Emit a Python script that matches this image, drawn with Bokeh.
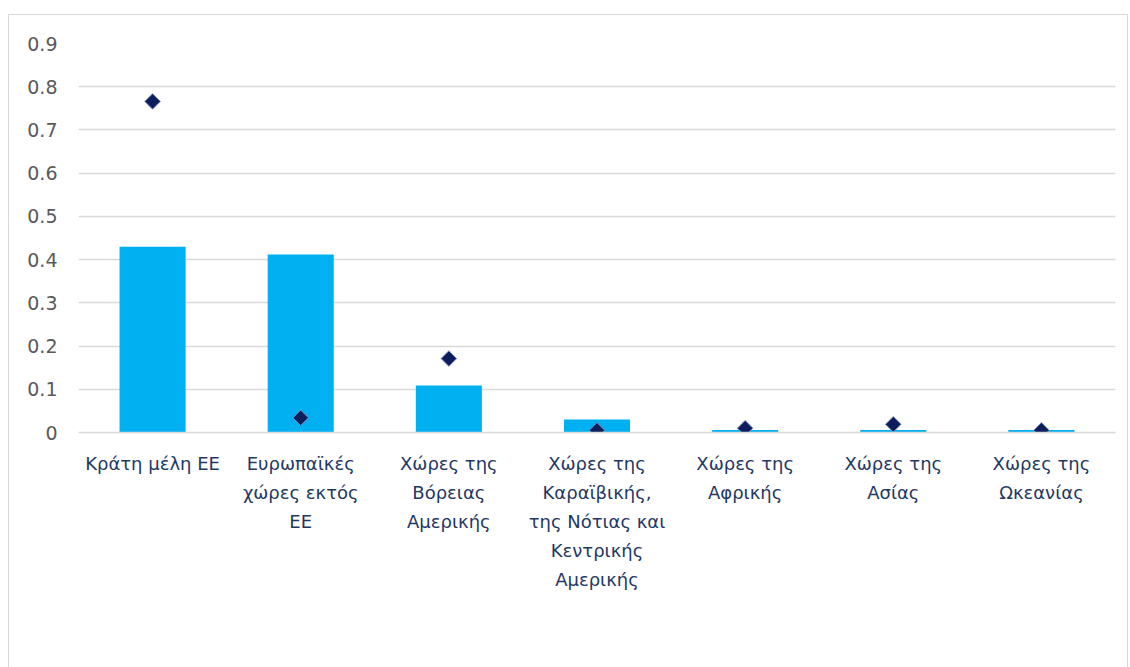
import math
from bokeh.plotting import figure
from bokeh.models import (ColumnDataSource, FixedTicker, Legend, LegendItem, Range1d, LinearAxis)
from bokeh.embed import file_html
from bokeh.resources import INLINE

categories = [
    "Κράτη μέλη ΕΕ",
    "Ευρωπαϊκές\nχώρες εκτός\nΕΕ",
    "Χώρες της\nΒόρειας\nΑμερικής",
    "Χώρες της\nΚαραϊβικής,\nτης Νότιας και\nΚεντρικής\nΑμερικής",
    "Χώρες της\nΑφρικής",
    "Χώρες της\nΑσίας",
    "Χώρες της\nΩκεανίας",
]
values_2021 = [0.430, 0.412, 0.109, 0.030, 0.006, 0.006, 0.006]
values_2011 = [0.766, 0.034, 0.171, 0.005, 0.010, 0.019, 0.005]
y_ticks = [0, 0.1, 0.2, 0.3, 0.4, 0.5, 0.6, 0.7, 0.8, 0.9]
y_tick_labels = ["0", "0.1", "0.2", "0.3", "0.4", "0.5", "0.6", "0.7", "0.8", "0.9"]
series_names = ["2021", "2011"]

FONT = "DejaVu Sans"
TICK_COLOR = "#595959"
LABEL_COLOR = "#1f3864"
BAR_COLOR = "#00b0f0"
DIAMOND_COLOR = "#0c1f5c"
GRID_COLOR = "#d9d9d9"

x_pos = list(range(len(categories)))
source = ColumnDataSource(dict(x=x_pos, v21=values_2021, v11=values_2011))

p = figure(
    frame_width=1037, frame_height=389,
    x_range=Range1d(-0.5, len(categories) - 0.5),
    y_range=Range1d(0, 0.9),
    x_axis_location=None,
    output_backend="svg", toolbar_location=None,
    min_border_left=69, min_border_right=12, min_border_top=28, min_border_bottom=0,
)
p.margin = (14, 0, 0, 8)
p.styles = {"border": "1px solid #d9d9d9"}
p.outline_line_color = None
p.background_fill_color = "white"
p.border_fill_color = "white"

bars = p.vbar(x="x", top="v21", width=0.446, source=source, color=BAR_COLOR, line_color=None)
pts = p.scatter(x="x", y="v11", source=source, marker="square", angle=math.pi / 4, size=11,
                fill_color=DIAMOND_COLOR, line_color="#8090c0", line_width=1)

p.yaxis.ticker = FixedTicker(ticks=y_ticks)
p.yaxis.major_label_overrides = {t: l for t, l in zip(y_ticks, y_tick_labels)}
p.yaxis.axis_line_color = None
p.yaxis.major_tick_line_color = None
p.yaxis.minor_tick_line_color = None
p.yaxis.major_label_text_color = TICK_COLOR
p.yaxis.major_label_text_font = FONT
p.yaxis.major_label_text_font_size = "19px"
p.yaxis.major_label_standoff = 15

p.xgrid.grid_line_color = None
p.ygrid.grid_line_color = GRID_COLOR
p.ygrid.grid_line_width = 1.5

# category labels: one stacked axis per text line (last one is an empty spacer)
split = [c.split("\n") for c in categories]
n_lines = max(len(s) for s in split)
for k in range(n_lines + 1):
    overrides = {}
    for i, parts in enumerate(split):
        overrides[i] = parts[k] if k < len(parts) else " "
    ax = LinearAxis(ticker=FixedTicker(ticks=x_pos), major_label_overrides=overrides)
    ax.axis_line_color = GRID_COLOR if k == 0 else None
    ax.axis_line_width = 1.5
    ax.major_tick_line_color = None
    ax.minor_tick_line_color = None
    ax.major_tick_out = 0
    ax.major_tick_in = 0
    ax.minor_tick_out = 0
    ax.major_label_text_color = LABEL_COLOR
    ax.major_label_text_font = FONT
    ax.major_label_text_font_size = "18px"
    ax.major_label_standoff = 20 if k == 0 else 5
    if k == n_lines:
        ax.major_label_text_alpha = 0
    p.add_layout(ax, "below")

legend = Legend(
    items=[LegendItem(label=series_names[0], renderers=[bars]),
           LegendItem(label=series_names[1], renderers=[pts])],
    orientation="horizontal", location="center",
    label_text_font=FONT, label_text_font_size="20px", label_text_color=LABEL_COLOR,
    border_line_color=None, background_fill_alpha=0,
    glyph_width=15, glyph_height=15, spacing=16, label_standoff=8, margin=4, padding=0,
)
p.add_layout(legend, "below")

open("out.html", "w").write(file_html(p, INLINE))
